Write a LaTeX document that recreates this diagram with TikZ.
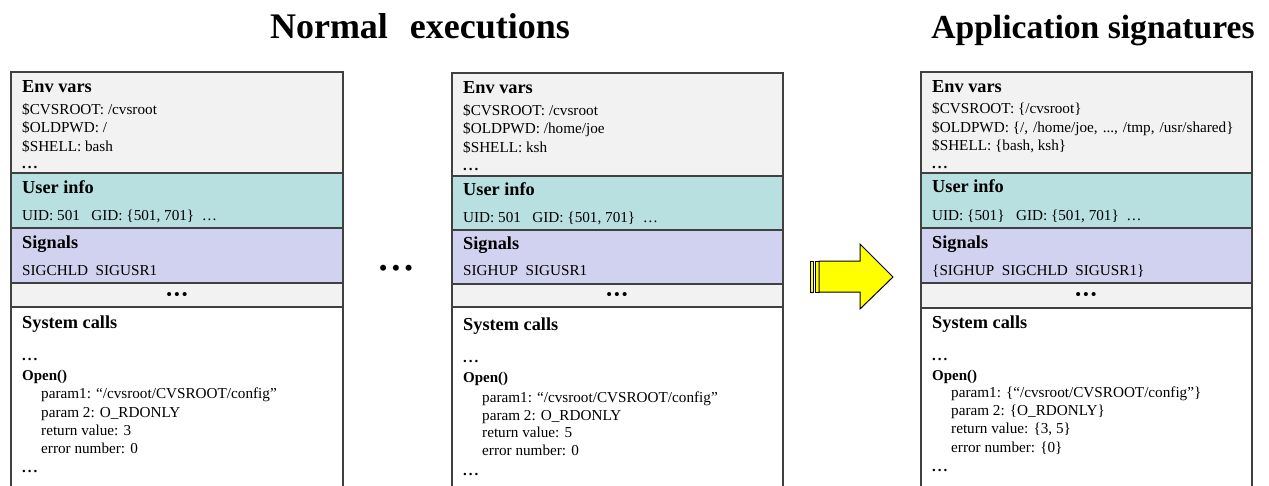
\documentclass[tikz,border=0pt]{standalone}
\usepackage{fontspec}
\setmainfont{Liberation Serif}
\definecolor{envcol}{RGB}{242,242,242}
\definecolor{usercol}{RGB}{184,224,224}
\definecolor{sigcol}{RGB}{209,209,240}
\definecolor{bordercol}{RGB}{64,64,64}
\definecolor{arrowyellow}{RGB}{255,255,0}
\newcommand{\procbox}[7]{%
  \fill[envcol] (#1,#3) rectangle (#2,#4);
  \fill[usercol] (#1,#4) rectangle (#2,#5);
  \fill[sigcol] (#1,#5) rectangle (#2,#6);
  \fill[envcol] (#1,#6) rectangle (#2,#7);
  \draw[bline] (#1,#3) rectangle (#2,495);
  \draw[bline] (#1,#4) -- (#2,#4);
  \draw[bline] (#1,#5) -- (#2,#5);
  \draw[bline] (#1,#6) -- (#2,#6);
  \draw[bline] (#1,#7) -- (#2,#7);
}
\newcommand{\eldots}{\textbf{.\hspace{2pt}.\hspace{2pt}.}}
\begin{document}
\begin{tikzpicture}[x=1pt,y=-1pt,
  bline/.style={draw=bordercol, line width=1.2pt},
  titleA/.style={anchor=base, inner sep=0, font=\fontsize{36}{40}\selectfont\bfseries},
  titleB/.style={anchor=base, inner sep=0, font=\fontsize{33.6}{38}\selectfont\bfseries},
  lbl/.style={anchor=base west, inner sep=0, font=\fontsize{18.3}{20}\selectfont\bfseries},
  opn/.style={anchor=base west, inner sep=0, font=\fontsize{15}{17}\selectfont\bfseries},
  txt/.style={anchor=base west, inner sep=0, font=\fontsize{15.2}{17}\selectfont},
  dotsb/.style={anchor=center, inner sep=0, font=\fontsize{15}{17}\selectfont\bfseries},
  bigdots/.style={anchor=center, inner sep=0, font=\fontsize{22}{24}\selectfont\bfseries},
  arrowsty/.style={fill=arrowyellow, draw=black, line width=1pt, line join=miter}
]
\useasboundingbox (0,0) rectangle (1269,485);
\clip (0,0) rectangle (1269,485);

% titles
\node[titleA] (t1) at (420,38) {Normal\hspace{22pt}executions};
\node[titleB] (t2) at (1093,38) {Application signatures};

% ---------- box 1 ----------
\procbox{11}{343}{72}{173}{228}{283}{307}
\node[lbl] (a1) at (22,92) {Env vars};
\node[txt] (a2) at (22,114) {\$CVSROOT: /cvsroot};
\node[txt] (a3) at (22,132) {\$OLDPWD: /};
\node[txt] (a4) at (22,151) {\$SHELL: bash};
\node[opn] (a5) at (22,168) {\eldots};
\node[lbl] (a6) at (22,193) {User info};
\node[txt] (a7) at (22,220) {UID: 501\ \ \ GID: \{501, 701\}\ \ …};
\node[lbl] (a8) at (22,248) {Signals};
\node[txt] (a9) at (22,275) {SIGCHLD\ \ SIGUSR1};
\node[dotsb] (a10) at (177,296) {•\,•\,•};
\node[lbl] (a11) at (22,328) {System calls};
\node[opn] (a12) at (22,360) {\eldots};
\node[opn] (a13) at (22,380) {Open()};
\node[txt] (a14) at (41,398) {param1: “/cvsroot/CVSROOT/config”};
\node[txt] (a15) at (41,417) {param 2: O\_RDONLY};
\node[txt] (a16) at (41,435) {return value: 3};
\node[txt] (a17) at (41,453) {error number: 0};
\node[opn] (a18) at (22,472) {\eldots};

% dots between
\node[bigdots] (mid) at (396,270) {•\hspace{5pt}•\hspace{5pt}•};

% ---------- box 2 ----------
\procbox{452}{783}{73}{176}{230}{284}{307}
\node[lbl] (b1) at (463,93) {Env vars};
\node[txt] (b2) at (463,115) {\$CVSROOT: /cvsroot};
\node[txt] (b3) at (463,133) {\$OLDPWD: /home/joe};
\node[txt] (b4) at (463,152) {\$SHELL: ksh};
\node[opn] (b5) at (463,170) {\eldots};
\node[lbl] (b6) at (463,195) {User info};
\node[txt] (b7) at (463,222) {UID: 501\ \ \ GID: \{501, 701\}\ \ …};
\node[lbl] (b8) at (463,249) {Signals};
\node[txt] (b9) at (463,275) {SIGHUP\ \ SIGUSR1};
\node[dotsb] (b10) at (617,296) {•\,•\,•};
\node[lbl] (b11) at (463,330) {System calls};
\node[opn] (b12) at (463,362) {\eldots};
\node[opn] (b13) at (463,382) {Open()};
\node[txt] (b14) at (482,402) {param1: “/cvsroot/CVSROOT/config”};
\node[txt] (b15) at (482,420) {param 2: O\_RDONLY};
\node[txt] (b16) at (482,437) {return value: 5};
\node[txt] (b17) at (482,455) {error number: 0};
\node[opn] (b18) at (463,475) {\eldots};

% ---------- arrow ----------
\filldraw[arrowsty] (810,261) rectangle (813,292);
\filldraw[arrowsty] (815,261) rectangle (819,292);
\filldraw[arrowsty] (819,261) -- (860,261) -- (860,244) -- (893,277) -- (860,309) -- (860,292) -- (819,292) -- cycle;

% ---------- box 3 ----------
\procbox{921}{1252}{72}{173}{228}{283}{308}
\node[lbl] (c1) at (932,92) {Env vars};
\node[txt] (c2) at (932,113) {\$CVSROOT: \{/cvsroot\}};
\node[txt] (c3) at (932,132) {\$OLDPWD: \{/,\hspace{5pt}/home/joe,\hspace{5pt}...,\hspace{5pt}/tmp,\hspace{5pt}/usr/shared\}};
\node[txt] (c4) at (932,150) {\$SHELL: \{bash, ksh\}};
\node[opn] (c5) at (932,168) {\eldots};
\node[lbl] (c6) at (932,192) {User info};
\node[txt] (c7) at (932,220) {UID: \{501\}\ \ \ GID: \{501, 701\}\ \ …};
\node[lbl] (c8) at (932,248) {Signals};
\node[txt] (c9) at (932,275) {\{SIGHUP\ \ SIGCHLD\ \ SIGUSR1\}};
\node[dotsb] (c10) at (1086,296) {•\,•\,•};
\node[lbl] (c11) at (932,328) {System calls};
\node[opn] (c12) at (932,360) {\eldots};
\node[opn] (c13) at (932,380) {Open()};
\node[txt] (c14) at (951,397) {param1: \{“/cvsroot/CVSROOT/config”\}};
\node[txt] (c15) at (951,415) {param 2: \{O\_RDONLY\}};
\node[txt] (c16) at (951,433) {return value: \{3, 5\}};
\node[txt] (c17) at (951,452) {error number: \{0\}};
\node[opn] (c18) at (932,471) {\eldots};
\end{tikzpicture}
\end{document}
